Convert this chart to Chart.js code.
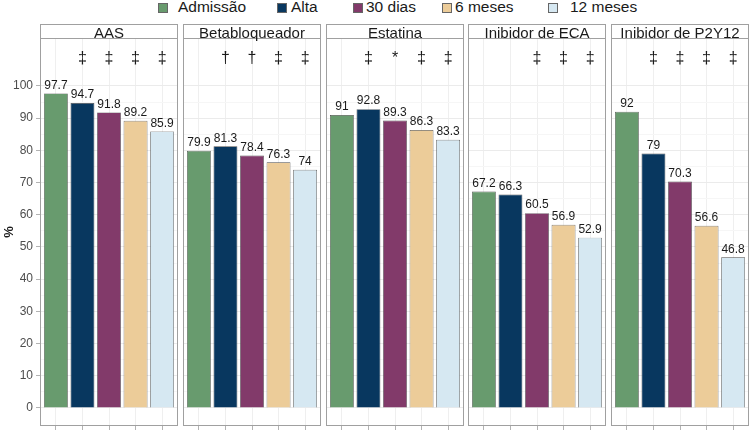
<!DOCTYPE html>
<html lang="pt">
<head>
    <meta charset="UTF-8">
    <title>Uso de medicamentos por período</title>
    <script src="https://cdn.jsdelivr.net/npm/chart.js"></script>
    <style>
        body {
            margin: 0;
            background: #fff;
            font-family: "Liberation Sans", Arial, sans-serif;
        }
        #wrap {
            position: relative;
            width: 750px;
            height: 430px;
            overflow: hidden;
        }
        #wrap canvas {
            position: absolute;
            top: 0;
        }
        .legBox {
            position: absolute;
            top: 3px;
            width: 10px;
            height: 10px;
            border: 1px solid #666;
            box-sizing: border-box;
        }
        .legText {
            position: absolute;
            top: -2px;
            font-size: 15.5px;
            line-height: 18px;
            color: #1a1a1a;
            white-space: nowrap;
        }
    </style>
</head>
<body>
<div id="wrap"></div>

<script>
    // Categorias (painéis) e períodos
    const drugs = ['AAS', 'Betabloqueador', 'Estatina', 'Inibidor de ECA', 'Inibidor de P2Y12'];
    const periods = ['Admissão', 'Alta', '30 dias', '6 meses', '12 meses'];
    const colors = ['#689b6e', '#08375f', '#823a6a', '#eccc99', '#d6e8f2'];

    // % de uso por período (uma posição por medicamento)
    const admissao = [97.7, 79.9, 91, 67.2, 92];
    const alta = [94.7, 81.3, 92.8, 66.3, 79];
    const dias30 = [91.8, 78.4, 89.3, 60.5, 70.3];
    const meses6 = [89.2, 76.3, 86.3, 56.9, 56.6];
    const meses12 = [85.9, 74, 83.3, 52.9, 46.8];
    const series = [admissao, alta, dias30, meses6, meses12];

    // marcas de significância acima das barras
    const sigAAS = ['', '‡', '‡', '‡', '‡'];
    const sigBeta = ['', '†', '†', '‡', '‡'];
    const sigEstatina = ['', '‡', '*', '‡', '‡'];
    const sigECA = ['', '', '‡', '‡', '‡'];
    const sigP2Y12 = ['', '‡', '‡', '‡', '‡'];
    const sigs = [sigAAS, sigBeta, sigEstatina, sigECA, sigP2Y12];

    const yTicks = [0, 10, 20, 30, 40, 50, 60, 70, 80, 90, 100];

    // posição dos painéis na página
    const panelLeft = [40, 183, 326, 468, 611];
    const panelRight = [178, 321, 464, 606, 749];
    const legBoxX = [158, 277, 353, 442, 548];
    const legTextX = [178, 291, 366, 455, 570];

    const FONT = '"Liberation Sans", Arial, sans-serif';
    const wrap = document.getElementById('wrap');

    // legenda
    periods.forEach((p, k) => {
        const b = document.createElement('div');
        b.className = 'legBox';
        b.style.left = legBoxX[k] + 'px';
        b.style.background = colors[k];
        wrap.appendChild(b);
        const t = document.createElement('div');
        t.className = 'legText';
        t.style.left = legTextX[k] + 'px';
        t.textContent = p;
        wrap.appendChild(t);
    });

    // moldura, faixa com título, rótulos e marcas
    const panelPlugin = {
        id: 'panel',
        afterDatasetsDraw(chart, args, opts) {
            const ctx = chart.ctx;
            const xs = chart.scales.x, ys = chart.scales.y;
            ctx.save();
            ctx.fillStyle = '#1a1a1a';
            ctx.textAlign = 'center';
            ctx.font = '12px ' + FONT;
            ctx.textBaseline = 'bottom';
            chart.data.datasets.forEach((ds, k) => {
                const meta = chart.getDatasetMeta(k);
                meta.data.forEach((el, j) => {
                    ctx.fillText(String(ds.data[j].y), el.x, el.y - 2);
                });
            });
            ctx.font = '16px ' + FONT;
            ctx.textBaseline = 'middle';
            opts.marks.forEach((m, j) => {
                if (m) ctx.fillText(m, xs.getPixelForValue(j + 1), ys.getPixelForValue(108.5));
            });
            ctx.restore();
        },
        afterDraw(chart, args, opts) {
            const ctx = chart.ctx;
            const a = chart.chartArea;
            const stripH = 14;
            ctx.save();
            ctx.fillStyle = '#ffffff';
            ctx.fillRect(a.left, a.top - stripH, a.right - a.left, stripH);
            ctx.strokeStyle = '#a0a0a0';
            ctx.lineWidth = 1;
            ctx.strokeRect(a.left + 0.5, a.top - stripH + 0.5, a.right - a.left - 1, a.bottom - a.top + stripH - 1);
            ctx.beginPath();
            ctx.moveTo(a.left, a.top + 0.5);
            ctx.lineTo(a.right, a.top + 0.5);
            ctx.stroke();
            ctx.fillStyle = '#1a1a1a';
            ctx.font = '15px ' + FONT;
            ctx.textAlign = 'center';
            ctx.textBaseline = 'alphabetic';
            ctx.fillText(opts.title, (a.left + a.right) / 2, a.top);
            ctx.restore();
        }
    };

    drugs.forEach((drug, i) => {
        const first = i === 0;
        const left = first ? 0 : panelLeft[i] - 2;
        const width = panelRight[i] - left + 2;
        const cv = document.createElement('canvas');
        cv.width = width;
        cv.height = 430;
        cv.style.left = left + 'px';
        wrap.appendChild(cv);

        const yAll = [];
        yTicks.forEach((v, n) => {
            yAll.push(v);
            if (n < yTicks.length - 1) yAll.push((v + yTicks[n + 1]) / 2);
        });

        new Chart(cv.getContext('2d'), {
            type: 'bar',
            data: {
                datasets: periods.map((p, k) => ({
                    label: p,
                    data: [{ x: k + 1, y: series[k][i] }],
                    backgroundColor: colors[k],
                    borderColor: '#4d4d4d',
                    borderWidth: 0.7,
                    grouped: false,
                    barPercentage: 0.9,
                    categoryPercentage: 1
                }))
            },
            options: {
                responsive: false,
                animation: false,
                devicePixelRatio: 1,
                layout: { padding: { top: 38, bottom: 0, left: first ? 0 : 2, right: 2 } },
                plugins: {
                    legend: { display: false },
                    tooltip: { enabled: false },
                    panel: { title: drug, marks: sigs[i] }
                },
                scales: {
                    x: {
                        type: 'linear',
                        offset: false,
                        min: 0.4,
                        max: 5.6,
                        afterBuildTicks: s => { s.ticks = periods.map((p, k) => ({ value: k + 1 })); },
                        ticks: { display: false },
                        grid: { offset: false, color: '#efefef', tickColor: '#b3b3b3', tickLength: 4, drawTicks: true },
                        border: { display: false },
                        afterFit: s => { s.height = 4; }
                    },
                    y: {
                        min: -5.6,
                        max: 114.9,
                        afterBuildTicks: s => { s.ticks = yAll.map(v => ({ value: v })); },
                        ticks: {
                            display: first,
                            padding: 3,
                            color: '#4d4d4d',
                            font: { family: FONT, size: 12 },
                            callback: v => (yTicks.includes(v) ? String(v) : '')
                        },
                        grid: {
                            color: c => (yTicks.includes(c.tick.value) ? '#ebebeb' : '#f6f6f6'),
                            tickColor: c => (yTicks.includes(c.tick.value) ? '#b3b3b3' : 'rgba(0,0,0,0)'),
                            drawTicks: first,
                            tickLength: 4
                        },
                        border: { display: false },
                        title: {
                            display: first,
                            text: '%',
                            color: '#1a1a1a',
                            font: { family: FONT, size: 13, weight: 'bold' },
                            padding: { top: 2, bottom: 0 }
                        },
                        afterFit: s => {
                            s.width = first ? 40 : 0;
                            s.paddingTop = 0;
                            s.paddingBottom = 0;
                        }
                    }
                }
            },
            plugins: [panelPlugin]
        });
    });
</script>
</body>
</html>
